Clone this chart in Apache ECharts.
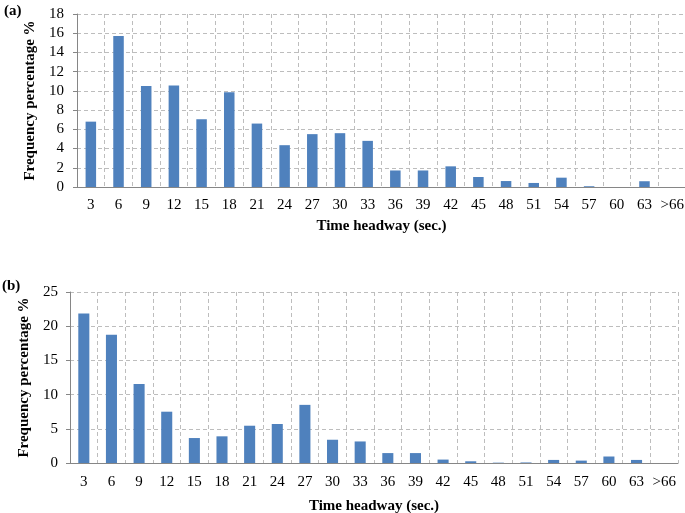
<!DOCTYPE html>
<html>
<head>
<meta charset="utf-8">
<script src="https://cdn.jsdelivr.net/npm/echarts@6/dist/echarts.min.js"></script>
<style>html,body{margin:0;padding:0;background:#fff;}#c{width:685px;height:513px;}</style>
</head>
<body>
<div id="c"></div>
<script>
var categories = ['3','6','9','12','15','18','21','24','27','30','33','36','39','42','45','48','51','54','57','60','63','>66'];
var freqA = [6.8, 15.7, 10.5, 10.55, 7.05, 9.85, 6.6, 4.35, 5.5, 5.6, 4.8, 1.72, 1.72, 2.15, 1.04, 0.62, 0.42, 0.97, 0.08, 0, 0.6, 0];
var freqB = [21.85, 18.75, 11.55, 7.5, 3.65, 3.9, 5.45, 5.7, 8.5, 3.4, 3.15, 1.45, 1.45, 0.5, 0.25, 0.05, 0.08, 0.45, 0.35, 0.95, 0.45, 0];
var xTitle = 'Time headway (sec.)';
var yTitle = 'Frequency percentage %';
var panelA = '(a)';
var panelB = '(b)';

var FONT = '"Liberation Serif", "Times New Roman", serif';
var BAR = '#4F81BD';
var GRID = '#BDBDBD';
var AXIS = '#868686';

function xAxisDef(idx, gap, margin) {
  return {
    type: 'category', gridIndex: idx, data: categories, boundaryGap: true,
    axisLine: {show: true, lineStyle: {color: AXIS, width: 1}},
    axisTick: {show: false},
    axisLabel: {color: '#000', fontFamily: FONT, fontSize: 15, margin: margin, interval: 0},
    splitLine: {show: true, interval: 0, lineStyle: {color: GRID, type: [4, 3], width: 1}},
    name: xTitle, nameLocation: 'middle', nameGap: gap,
    nameTextStyle: {color: '#000', fontFamily: FONT, fontSize: 15, fontWeight: 'bold'}
  };
}
function yAxisDef(idx, max, interval, gap, margin) {
  return {
    type: 'value', gridIndex: idx, min: 0, max: max, interval: interval,
    axisLine: {show: true, lineStyle: {color: AXIS, width: 1}},
    axisTick: {show: true, length: 4, lineStyle: {color: AXIS}},
    axisLabel: {color: '#000', fontFamily: FONT, fontSize: 15, margin: margin},
    splitLine: {show: true, lineStyle: {color: GRID, type: [4, 3], width: 1}},
    name: yTitle, nameLocation: 'middle', nameGap: gap,
    nameTextStyle: {color: '#000', fontFamily: FONT, fontSize: 15, fontWeight: 'bold'}
  };
}

var chart = echarts.init(document.getElementById('c'), null, {renderer: 'canvas'});
chart.setOption({
  animation: false,
  backgroundColor: '#fff',
  grid: [
    {left: 77, top: 14, width: 609, height: 173, containLabel: false, outerBoundsMode: 'none'},
    {left: 70, top: 292, width: 608, height: 171, containLabel: false, outerBoundsMode: 'none'}
  ],
  xAxis: [xAxisDef(0, 32, 11), xAxisDef(1, 36, 12)],
  yAxis: [yAxisDef(0, 18, 2, 30, 13), yAxisDef(1, 25, 5, 31, 12)],
  series: [
    {type: 'bar', xAxisIndex: 0, yAxisIndex: 0, data: freqA, barWidth: '38%', itemStyle: {color: BAR}},
    {type: 'bar', xAxisIndex: 1, yAxisIndex: 1, data: freqB, barWidth: '40%', itemStyle: {color: BAR}}
  ],
  graphic: [
    {type: 'text', left: 4, top: 4, style: {text: panelA, font: 'bold 15px ' + FONT, fill: '#000'}},
    {type: 'text', left: 2, top: 279, style: {text: panelB, font: 'bold 15px ' + FONT, fill: '#000'}}
  ]
});
</script>
</body>
</html>
